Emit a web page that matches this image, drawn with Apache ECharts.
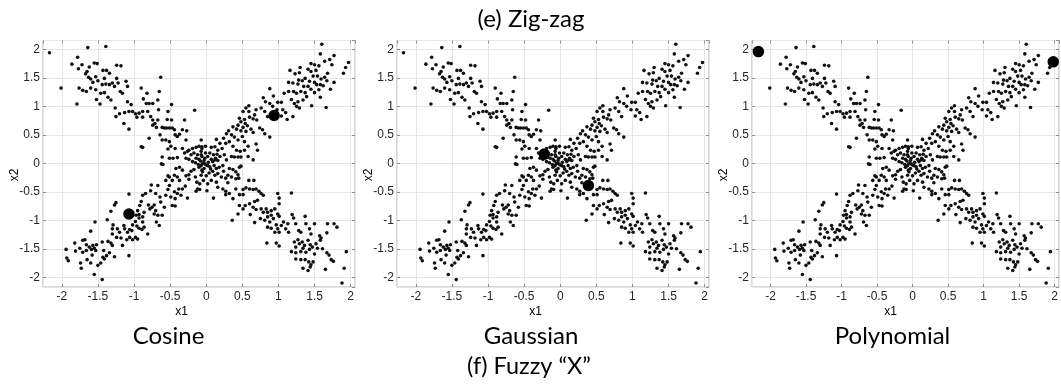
<!DOCTYPE html>
<html>
<head>
<meta charset="utf-8">
<script src="https://cdn.jsdelivr.net/npm/echarts@6/dist/echarts.min.js"></script>
<style>
  html, body { margin: 0; padding: 0; background: #fff; }
  #chart { width: 1061px; height: 387px; }
</style>
</head>
<body>
<div id="chart"></div>
<script>
// Shared sample cloud (x1, x2) forming the fuzzy "X"
const points = [
  // upper-left arm
  [-2.17,1.94],[-1.64,2.03],[-1.39,2.05],[-1.78,1.86],[-1.86,1.74],[-1.77,1.66],[-1.72,1.73],[-2.01,1.32],
  [-1.79,1.04],[-1.55,1.76],[-1.51,1.75],[-1.62,1.69],[-1.65,1.61],[-1.67,1.57],[-1.63,1.51],[-1.60,1.48],
  [-1.57,1.42],[-1.53,1.52],[-1.50,1.45],[-1.43,1.63],[-1.38,1.63],[-1.34,1.58],[-1.41,1.49],[-1.44,1.38],
  [-1.39,1.39],[-1.34,1.38],[-1.30,1.41],[-1.24,1.72],[-1.18,1.71],[-1.24,1.49],[-1.22,1.41],[-1.27,1.35],
  [-1.19,1.26],[-1.16,1.23],[-1.11,1.44],[-1.09,1.35],[-1.76,1.32],[-1.71,1.28],[-1.66,1.26],[-1.60,1.32],
  [-1.53,1.29],[-1.46,1.23],[-1.41,1.24],[-1.52,1.12],[-1.47,1.04],[-1.36,1.16],[-1.32,1.11],[-1.26,0.97],
  [-1.25,0.82],[-1.20,0.87],[-1.13,0.89],[-1.14,0.70],[-1.07,0.60],[-1.09,1.08],[-1.04,1.03],[-1.07,0.91],
  [-1.02,0.91],[-0.98,0.87],[-0.96,0.81],[-0.93,0.88],[-0.88,0.91],[-0.88,0.81],[-0.90,1.32],[-0.87,1.13],
  [-0.82,1.23],[-0.83,1.05],[-0.79,1.05],[-0.74,1.05],[-0.67,1.11],[-0.65,1.26],[-0.63,1.51],[-0.66,0.94],
  [-0.81,0.91],[-0.77,0.82],[-0.74,0.76],[-0.71,0.70],[-0.67,0.76],[-0.74,0.67],[-0.69,0.63],[-0.61,0.63],
  [-0.58,0.62],[-0.54,0.77],[-0.55,0.62],[-0.51,0.62],[-0.48,1.03],[-0.47,0.62],[-0.44,0.59],[-0.53,0.91],
  [-0.48,0.76],[-0.43,0.50],[-0.40,0.47],[-0.37,0.51],[-0.79,0.44],[-0.64,0.50],[-0.61,0.41],[-0.56,0.41],
  [-0.51,0.38],[-0.88,0.28],[-0.90,0.29],[-0.53,0.25],[-0.49,0.30],[-0.43,0.26],[-0.61,0.11],[-0.51,0.09],
  [-0.46,0.09],[-0.40,0.10],[-0.62,-0.01],[-0.33,0.59],[-0.27,0.57],[-0.30,0.76],[-0.16,0.93],[-0.28,0.41],
  [-0.33,0.26],[-0.30,0.18],[-0.26,0.21],[-0.24,0.23],[-0.19,0.26],[-0.14,0.28],[-0.10,0.30],[-0.06,0.29],
  [-0.21,0.15],[-0.17,0.18],[-0.12,0.15],[-0.07,0.21],[-0.28,0.09],[-0.24,0.07],[-0.14,0.09],[-0.10,0.07],
  [-0.06,0.12],[-0.19,0.03],
  // upper-right arm
  [1.60,2.09],[1.58,1.92],[1.64,1.79],[1.71,1.82],[1.77,1.89],[1.74,1.73],[1.68,1.58],[1.77,1.42],
  [1.72,1.30],[1.90,1.58],[1.93,1.68],[1.97,1.77],[1.45,1.75],[1.50,1.73],[1.56,1.71],[1.30,1.68],
  [1.16,1.63],[1.23,1.57],[1.29,1.59],[1.41,1.65],[1.45,1.61],[1.52,1.63],[1.48,1.53],[1.54,1.53],
  [1.59,1.48],[1.64,1.51],[1.67,1.45],[1.50,1.42],[1.53,1.38],[1.58,1.38],[1.62,1.36],[1.37,1.49],
  [1.33,1.45],[1.43,1.44],[1.28,1.46],[1.14,1.42],[1.20,1.41],[1.27,1.39],[1.35,1.35],[1.41,1.35],
  [1.45,1.30],[1.50,1.24],[1.56,1.29],[1.37,1.24],[1.31,1.26],[1.25,1.23],[1.21,1.26],[1.14,1.26],
  [1.08,1.23],[1.39,1.17],[1.34,1.11],[1.27,1.08],[1.18,1.12],[1.22,1.05],[1.25,1.00],[1.29,0.97],
  [1.20,0.82],[1.46,1.01],[1.58,1.16],[1.66,0.98],[0.88,1.31],[0.93,1.18],[0.79,1.15],[0.82,1.08],
  [0.88,1.05],[0.99,1.07],[1.04,1.07],[0.92,1.00],[0.98,0.94],[1.06,0.94],[1.10,0.89],[1.12,0.77],
  [1.04,0.83],[0.81,0.91],[0.85,0.82],[0.76,0.97],[0.69,0.94],[0.67,0.85],[0.59,1.01],[0.55,0.97],
  [0.51,0.91],[0.59,0.91],[0.46,0.79],[0.53,0.77],[0.60,0.81],[0.65,0.78],[0.48,0.73],[0.54,0.70],
  [0.57,0.66],[0.51,0.63],[0.44,0.67],[0.42,0.60],[0.48,0.57],[0.55,0.56],[0.62,0.60],[0.65,0.54],
  [0.74,0.62],[0.78,0.59],[0.81,0.52],[0.88,0.46],[0.70,0.76],[0.37,0.64],[0.31,0.57],[0.28,0.52],
  [0.35,0.50],[0.39,0.46],[0.44,0.41],[0.50,0.47],[0.53,0.38],[0.58,0.30],[0.69,0.34],[0.71,0.23],
  [0.24,0.44],[0.27,0.35],[0.32,0.38],[0.37,0.30],[0.42,0.23],[0.47,0.21],[0.53,0.23],[0.35,0.12],
  [0.39,0.11],[0.44,0.11],[0.48,0.11],[0.58,0.12],[0.65,0.06],[0.14,0.42],[0.19,0.35],[0.22,0.26],
  [0.16,0.23],[0.12,0.29],[0.07,0.28],[0.05,0.18],[0.10,0.15],[0.15,0.16],[0.19,0.12],[0.25,0.15],
  [0.28,0.06],[-0.07,0.41],[-0.06,0.26],[-0.01,0.30],[-0.07,0.15],[-0.02,0.09],[0.02,0.12],[0.07,0.07],
  [0.12,0.06],[0.16,0.05],
  // lower-left arm
  [-1.94,-1.51],[-1.93,-1.66],[-1.91,-1.71],[-1.82,-1.40],[-1.81,-1.54],[-1.75,-1.49],[-1.74,-1.75],[-1.73,-1.84],
  [-1.71,-1.35],[-1.68,-1.34],[-1.71,-1.56],[-1.66,-1.53],[-1.66,-1.43],[-1.62,-1.47],[-1.59,-1.51],[-1.58,-1.61],
  [-1.55,-1.49],[-1.53,-1.53],[-1.57,-1.44],[-1.52,-1.43],[-1.60,-1.75],[-1.65,-1.69],[-1.55,-1.95],[-1.44,-2.04],
  [-1.50,-1.79],[-1.46,-1.75],[-1.43,-1.65],[-1.41,-1.68],[-1.38,-1.62],[-1.34,-1.57],[-1.42,-1.53],[-1.44,-1.38],
  [-1.36,-1.37],[-1.32,-1.40],[-1.30,-1.44],[-1.27,-1.64],[-1.60,-1.19],[-1.54,-1.03],[-1.37,-0.99],[-1.32,-0.84],
  [-1.30,-1.24],[-1.29,-1.08],[-1.30,-1.15],[-1.24,-1.30],[-1.23,-1.15],[-1.20,-1.21],[-1.18,-1.31],[-1.16,-1.44],
  [-1.14,-1.09],[-1.13,-1.15],[-1.27,-0.73],[-1.25,-0.69],[-1.07,-0.54],[-1.09,-1.21],[-1.06,-1.16],[-1.03,-1.18],
  [-1.07,-1.62],[-1.06,-1.30],[-1.10,-1.34],[-1.02,-1.34],[-0.98,-1.30],[-0.95,-1.33],[-1.02,-1.08],[-0.98,-1.02],
  [-0.96,-1.10],[-0.93,-1.14],[-0.89,-1.16],[-0.86,-1.12],[-0.81,-1.24],[-0.97,-0.91],[-0.93,-0.90],[-0.95,-0.83],
  [-0.93,-0.96],[-0.88,-1.03],[-0.88,-0.94],[-0.86,-0.86],[-0.92,-0.74],[-0.90,-0.67],[-0.88,-0.56],[-0.84,-0.53],
  [-0.80,-0.73],[-0.78,-0.80],[-0.75,-0.77],[-0.72,-0.73],[-0.70,-0.83],[-0.72,-0.89],[-0.67,-0.91],[-0.69,-1.03],
  [-0.65,-1.09],[-0.61,-0.91],[-0.77,-0.48],[-0.76,-0.38],[-0.67,-0.39],[-0.70,-0.53],[-0.64,-0.59],[-0.63,-0.68],
  [-0.58,-0.77],[-0.56,-0.56],[-0.53,-0.46],[-0.51,-0.39],[-0.49,-0.59],[-0.47,-0.74],[-0.43,-0.75],[-0.43,-0.62],
  [-0.44,-0.50],[-0.40,-0.53],[-0.38,-0.45],[-0.35,-0.56],[-0.33,-0.45],[-0.29,-0.40],[-0.26,-0.61],[-0.53,-0.22],
  [-0.51,-0.24],[-0.56,-0.30],[-0.47,-0.30],[-0.44,-0.21],[-0.40,-0.24],[-0.37,-0.30],[-0.42,-0.09],[-0.37,-0.07],
  [-0.33,-0.12],[-0.28,-0.22],[-0.24,-0.28],[-0.21,-0.14],[-0.24,-0.20],[-0.17,-0.11],[-0.15,-0.24],[-0.13,-0.33],
  [-0.12,-0.45],[-0.14,-0.49],[-0.09,-0.36],[-0.07,-0.21],[-0.10,-0.07],[-0.06,-0.12],[-0.60,-0.02],
  // lower-right arm
  [-0.07,-0.04],[-0.02,-0.01],[0.02,-0.04],[0.06,-0.10],[-0.05,-0.15],[0.00,-0.22],[-0.04,-0.30],[0.02,-0.36],
  [0.07,-0.30],[0.12,-0.21],[0.09,-0.14],[0.14,-0.09],[0.16,-0.18],[0.18,-0.07],[0.23,-0.04],[0.24,-0.14],
  [0.21,-0.24],[0.16,-0.42],[0.10,-0.61],[-0.09,-0.46],[0.01,-0.48],[0.14,-0.33],[0.27,-0.26],[0.30,-0.21],
  [0.32,-0.09],[0.37,-0.11],[0.41,-0.15],[0.46,-0.07],[0.48,-0.05],[0.44,-0.20],[0.45,-0.26],[0.41,-0.27],
  [0.35,-0.24],[0.30,-0.34],[0.23,-0.45],[0.27,-0.55],[0.32,-0.53],[0.37,-0.62],[0.27,-0.49],[0.36,-1.00],
  [0.41,-0.45],[0.46,-0.55],[0.51,-0.46],[0.55,-0.43],[0.60,-0.45],[0.65,-0.46],[0.69,-0.45],[0.59,-0.30],
  [0.66,-0.30],[0.73,-0.49],[0.76,-0.53],[0.79,-0.56],[0.51,-0.55],[0.46,-0.74],[0.44,-0.89],[0.51,-0.80],
  [0.54,-0.74],[0.60,-0.71],[0.67,-0.67],[0.71,-0.65],[0.65,-0.77],[0.69,-0.81],[0.61,-0.90],[0.76,-0.80],
  [0.79,-0.86],[0.83,-0.80],[0.85,-0.86],[0.90,-0.83],[0.95,-0.80],[0.67,-1.04],[0.75,-0.97],[0.81,-1.00],
  [0.85,-0.94],[0.88,-1.03],[0.90,-0.91],[0.93,-0.97],[0.99,-0.89],[1.01,-0.93],[0.99,-0.53],[1.01,-0.61],
  [1.01,-0.71],[1.18,-0.52],[0.85,-1.12],[0.90,-1.14],[0.97,-1.08],[0.99,-1.15],[1.01,-1.21],[0.95,-1.21],
  [1.04,-1.09],[1.07,-1.03],[1.13,-1.06],[1.10,-1.15],[1.14,-1.21],[1.19,-0.90],[1.21,-0.96],[1.24,-1.06],
  [1.28,-1.18],[1.31,-1.21],[1.37,-0.93],[1.38,-1.06],[1.43,-1.15],[1.45,-1.24],[1.50,-1.06],[1.57,-1.27],
  [1.59,-1.31],[1.68,-1.06],[1.77,-1.06],[1.81,-1.12],[1.67,-1.22],[0.84,-1.40],[0.97,-1.40],[1.01,-1.45],
  [1.22,-1.38],[1.27,-1.34],[1.29,-1.41],[1.33,-1.38],[1.36,-1.44],[1.24,-1.47],[1.34,-1.49],[1.41,-1.35],
  [1.44,-1.43],[1.47,-1.47],[1.52,-1.41],[1.54,-1.49],[1.58,-1.35],[1.61,-1.50],[1.18,-1.55],[1.24,-1.57],
  [1.31,-1.55],[1.38,-1.56],[1.43,-1.51],[1.50,-1.59],[1.67,-1.57],[1.70,-1.61],[1.94,-1.55],[1.24,-1.68],
  [1.31,-1.69],[1.37,-1.69],[1.42,-1.73],[1.45,-1.78],[1.48,-1.73],[1.44,-1.82],[1.73,-1.69],[1.76,-1.72],
  [1.34,-1.84],[1.41,-1.88],[1.65,-1.86],[1.91,-1.84],[1.88,-2.10],
  // dense centre
  [-0.05,0.00],[0.00,-0.03],[0.03,0.02],[-0.08,0.04],[0.05,-0.06],[-0.03,0.05],[0.09,0.03],[-0.11,-0.02],
  [0.11,-0.04],[-0.01,0.18],[0.04,-0.17],[-0.15,0.01],[0.13,0.09],[-0.03,-0.09]
];

// Highlighted samples for each kernel panel
const cosinePts = [[0.94, 0.84], [-1.07, -0.89]];
const gaussianPts = [[-0.22, 0.16], [0.39, -0.39]];
const polynomialPts = [[-2.17, 1.96], [1.98, 1.78]];

const panelTitles = ['Cosine', 'Gaussian', 'Polynomial'];
const highlights = [cosinePts, gaussianPts, polynomialPts];
const figureTitleTop = '(e) Zig-zag';
const figureTitleBottom = '(f) Fuzzy \u201CX\u201D';
const xName = 'x1';
const yName = 'x2';

const xRange = [-2.26, 2.06];
const yRange = [-2.17, 2.155];

const panelLeft = [43, 397, 752];
const panelTop = 40.5;
const panelW = 312;
const panelH = 246.5;

const tickFont = { fontFamily: 'Liberation Sans', fontSize: 12, color: '#262626' };
const gridLineColor = '#e6e6e6';
const frameColor = '#b0b0b0';

const grid = [], xAxis = [], yAxis = [], series = [], graphic = [];

function textEl(x, y, text, font, extra) {
  return Object.assign({ type: 'text', x: x, y: y, silent: true,
    style: { text: text, font: font, fill: '#000',
      align: 'center', verticalAlign: 'middle', textAlign: 'center', textVerticalAlign: 'middle' } }, extra || {});
}

panelLeft.forEach((left, i) => {
  grid.push({ left: left, top: panelTop, width: panelW, height: panelH,
    show: true, borderColor: frameColor, borderWidth: 1, backgroundColor: '#fff' });

  const tick = { show: true, inside: true, length: 3, lineStyle: { color: '#8c8c8c' } };
  const hiddenLine = { show: false, onZero: false };
  // bottom / left axes carry labels and grid lines
  xAxis.push({ type: 'value', gridIndex: i, position: 'bottom', min: xRange[0], max: xRange[1],
    splitNumber: 8, axisLine: hiddenLine, axisTick: tick,
    axisLabel: Object.assign({ margin: 4, showMinLabel: false, showMaxLabel: false }, tickFont),
    splitLine: { show: true, lineStyle: { color: gridLineColor } } });
  yAxis.push({ type: 'value', gridIndex: i, position: 'left', min: yRange[0], max: yRange[1],
    splitNumber: 8, axisLine: hiddenLine, axisTick: tick,
    axisLabel: Object.assign({ margin: 3, showMinLabel: false, showMaxLabel: false }, tickFont),
    splitLine: { show: true, lineStyle: { color: gridLineColor } } });
  // top / right axes only repeat the tick marks
  xAxis.push({ type: 'value', gridIndex: i, position: 'top', min: xRange[0], max: xRange[1],
    splitNumber: 8, axisLine: hiddenLine, axisTick: tick,
    axisLabel: { show: false }, splitLine: { show: false } });
  yAxis.push({ type: 'value', gridIndex: i, position: 'right', min: yRange[0], max: yRange[1],
    splitNumber: 8, axisLine: hiddenLine, axisTick: tick,
    axisLabel: { show: false }, splitLine: { show: false } });

  series.push({ type: 'scatter', xAxisIndex: 2 * i, yAxisIndex: 2 * i, data: points,
    symbol: 'circle', symbolSize: 3.6, itemStyle: { color: '#111', opacity: 1 }, silent: true, z: 2 });
  series.push({ type: 'scatter', xAxisIndex: 2 * i, yAxisIndex: 2 * i, data: highlights[i],
    symbol: 'circle', symbolSize: 11.5, itemStyle: { color: '#000', opacity: 1 }, silent: true, z: 3 });

  const axisFont = '12px "Liberation Sans"';
  graphic.push(textEl(left + 138.5, 312, xName, axisFont));
  graphic.push(textEl(left - 28, 175, yName, axisFont, { rotation: Math.PI / 2 }));
  graphic.push(textEl([168.5, 531, 892.5][i], 336, panelTitles[i], '24px Lato'));
});

graphic.push(textEl(531, 19, figureTitleTop, '24px Lato'));
graphic.push(textEl(529, 366, figureTitleBottom, '23.5px Lato'));

const chart = echarts.init(document.getElementById('chart'), null, { renderer: 'canvas' });
chart.setOption({
  animation: false,
  backgroundColor: '#fff',
  grid: grid,
  xAxis: xAxis,
  yAxis: yAxis,
  series: series,
  graphic: graphic
});
</script>
</body>
</html>
